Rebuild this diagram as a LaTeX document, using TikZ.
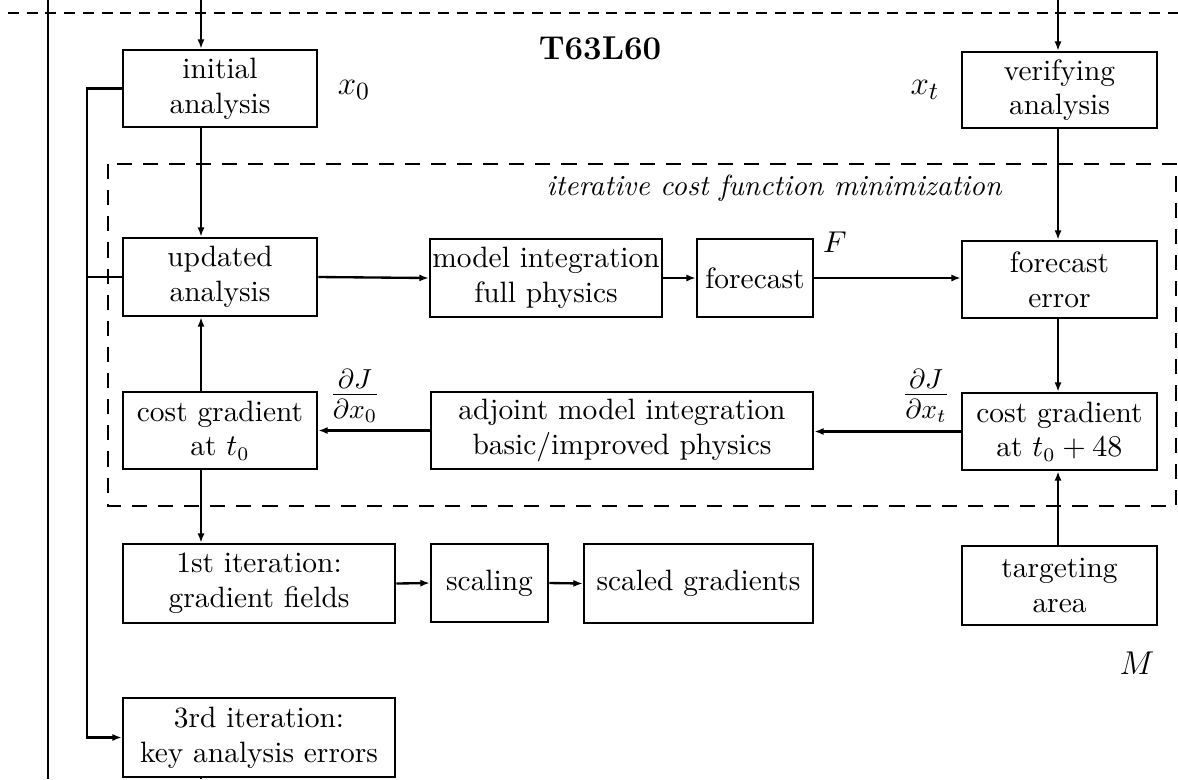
\documentclass[tikz,border=0pt]{standalone}
\usepackage{amsmath}
\usetikzlibrary{arrows.meta,calc}
\begin{document}
\begin{tikzpicture}[x=0.3636pt,y=-0.3636pt,
  every node/.style={font=\fontsize{10.7}{12.6}\selectfont},
  box/.style 2 args={draw,line width=0.95pt,align=center,inner sep=0pt,
    minimum width=#1*0.3636pt,minimum height=#2*0.3636pt},
  conn/.style={line width=0.85pt},
  arr/.style={conn,-{Latex[length=3.4pt,width=2.6pt]}},
  lbl/.style={inner sep=0pt}]
\useasboundingbox (0,0) rectangle (1178,779);
% outer frame pieces
\coordinate (oL) at (8,13);
\coordinate (oR) at (1178,13);
\draw[conn,dash pattern=on 4pt off 2.8pt] (oL) -- (oR);
\coordinate (vT) at (48,0);
\coordinate (vB) at (48,779);
\draw[conn] (vT) -- (vB);
% inner dashed frame
\coordinate (iA) at (108,164);
\coordinate (iB) at (1176,506);
\draw[conn,dash pattern=on 5.5pt off 4pt] (iA) rectangle (iB);
% boxes
\node[box={194}{77}] (init) at (220,88.5) {initial\\analysis};
\node[box={195}{76}] (verif) at (1059.5,90) {verifying\\analysis};
\node[box={194}{78}] (upd) at (220,277) {updated\\analysis};
\node[box={232}{78}] (model) at (546,278) {model integration\\full physics};
\node[box={116}{78}] (fc) at (755,278) {forecast};
\node[box={195}{77}] (fcerr) at (1059.5,279.5) {forecast\\error};
\node[box={194}{77}] (cg0) at (220,430.5) {cost gradient\\at $t_0$};
\node[box={382}{77}] (adj) at (622,430.5) {adjoint model integration\\basic/improved physics};
\node[box={195}{77}] (cg48) at (1059.5,431.5) {cost gradient\\at $t_0+48$};
\node[box={272}{79}] (it1) at (259,583.5) {1st iteration:\\gradient fields};
\node[box={117}{78}] (scal) at (489.5,583) {scaling};
\node[box={229}{79}] (sgrad) at (698.5,583.5) {scaled gradients};
\node[box={195}{79}] (targ) at (1059.5,585.5) {targeting\\area};
\node[box={272}{79}] (it3) at (259,737.5) {3rd iteration:\\key analysis errors};
% labels
\node[lbl,font=\fontsize{12}{14}\selectfont\bfseries] (title) at (600,48) {T63L60};
\node[lbl,font=\fontsize{10.6}{12.6}\selectfont\itshape] (iter) at (774,188) {iterative cost function minimization};
\node[lbl,font=\fontsize{12.5}{15}\selectfont] (x0) at (354,90) {$x_0$};
\node[lbl,font=\fontsize{12.5}{15}\selectfont] (xt) at (925,90) {$x_t$};
\node[lbl,font=\fontsize{11}{13}\selectfont] (F) at (835,242) {$F$};
\node[lbl,font=\fontsize{12}{14}\selectfont] (M) at (1137,663) {$M$};
\node[lbl,font=\fontsize{14.5}{17}\selectfont] (dJ0) at (355,396) {$\tfrac{\partial J}{\partial x_0}$};
\node[lbl,font=\fontsize{14.5}{17}\selectfont] (dJt) at (926,396) {$\tfrac{\partial J}{\partial x_t}$};
% connector helper coordinates
\coordinate (lx) at (201,0);
\coordinate (rx) at (1058,0);
\coordinate (topL) at (201,0);
\coordinate (topR) at (1058,0);
\coordinate (bus) at (87,0);
\coordinate (botL) at (201,779);
% connectors
\draw[arr] (topL) -- (init.north -| lx);
\draw[arr] (topR) -- (verif.north -| rx);
\draw[arr] (init.south -| lx) -- (upd.north -| lx);
\draw[arr] (init.west) -- (init.west -| bus) -- (it3.west -| bus) -- (it3.west);
\draw[conn] (upd.west -| bus) -- (upd.west);
\draw[arr] (upd.east) -- (model.west);
\draw[arr] (model.east) -- (fc.east -| fc.west);
\draw[arr] (fc.east) -- (fc.east -| fcerr.west);
\draw[arr] (verif.south -| rx) -- (fcerr.north -| rx);
\draw[arr] (fcerr.south -| rx) -- (cg48.north -| rx);
\draw[arr] (cg48.west) -- (cg48.west -| adj.east);
\draw[arr] (adj.west) -- (cg0.east);
\draw[arr] (cg0.north -| lx) -- (upd.south -| lx);
\draw[arr] (cg0.south -| lx) -- (it1.north -| lx);
\draw[arr] (it1.east) -- (scal.west);
\draw[arr] (scal.east) -- (sgrad.west);
\draw[arr] (targ.north -| rx) -- (cg48.south -| rx);
\draw[conn] (it3.south -| lx) -- (botL);
\end{tikzpicture}
\end{document}
